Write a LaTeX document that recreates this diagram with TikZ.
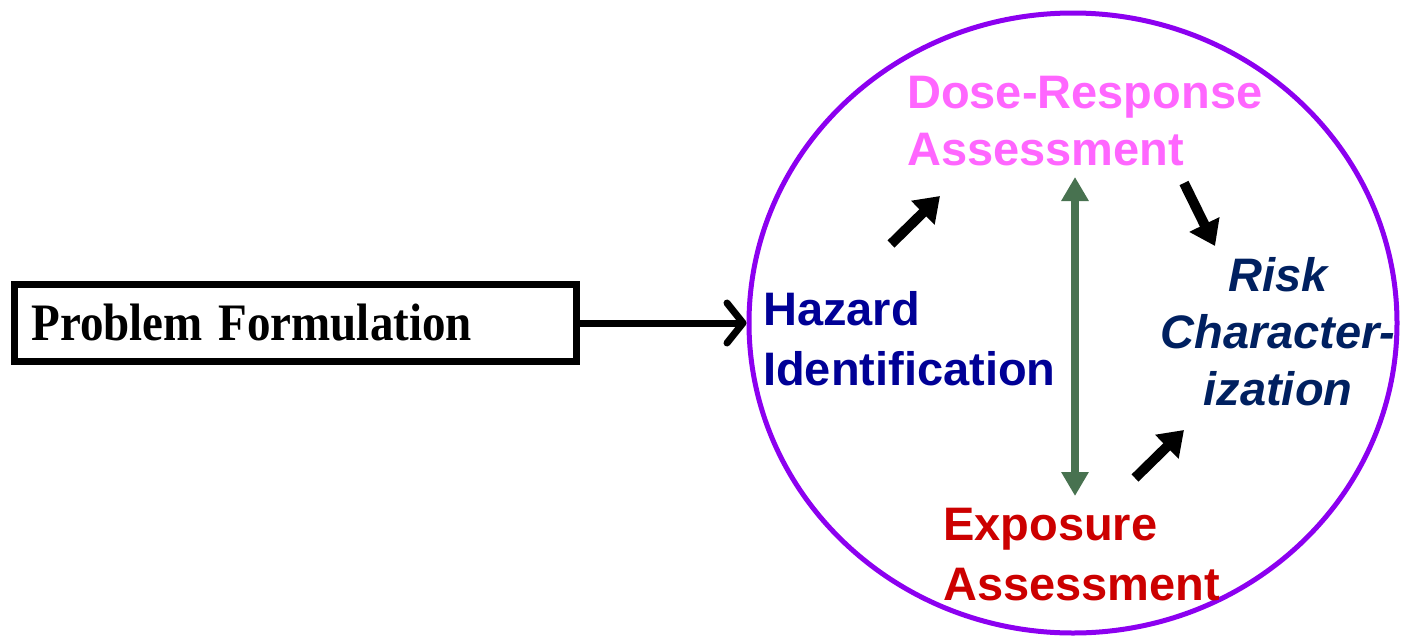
\documentclass[tikz,border=0pt]{standalone}
\usepackage{fontspec}
\setmainfont{Liberation Sans}
\newfontfamily\timesfont{Liberation Serif}
\usetikzlibrary{arrows.meta,shapes.geometric}
\definecolor{ringpurple}{RGB}{140,0,240}
\definecolor{dosepink}{RGB}{255,102,255}
\definecolor{hazardblue}{RGB}{0,0,150}
\definecolor{risknavy}{RGB}{0,32,96}
\definecolor{exposred}{RGB}{204,0,0}
\definecolor{linkgreen}{RGB}{72,114,80}
\tikzset{
  label/.style={inner sep=0pt, font=\fontsize{47}{60}\selectfont\bfseries},
  flow/.style={line width=10pt, -{Triangle[length=24pt,width=32pt]}},
  link/.style={line width=8pt, linkgreen, {Triangle[length=24pt,width=26pt]}-{Triangle[length=24pt,width=26pt]}},
}
\begin{document}
\begin{tikzpicture}[x=1pt,y=-1pt]
  \useasboundingbox (0,0) rectangle (1401,638);

  % problem formulation box
  \node[draw, line width=7pt, minimum width=562pt, minimum height=77pt, inner sep=0pt,
        font=\timesfont\fontsize{47}{58}\selectfont\bfseries, anchor=north west,
        text width=540pt, align=left]
    (pf) at (11,281) {\hspace*{6pt}\scalebox{1}[1.12]{Problem Formulation}};

  % risk assessment ring
  \node[draw=ringpurple, line width=5pt, ellipse, minimum width=648pt, minimum height=620pt, inner sep=0pt]
    (ring) at (1073,323) {};

  \draw[line width=7pt, -{Straight Barb[length=16pt,width=40pt,line cap=round,line join=round]}]
    (pf.east) -- (ring.west);

  % stages (anchored at the baseline of the last line)
  \node[label, text=hazardblue, anchor=base west, align=left] (haz) at (763,385)
    {Hazard\\Identification};
  \node[label, text=dosepink, anchor=base west, align=left, font=\fontsize{47}{57}\selectfont\bfseries] (dose) at (907,165)
    {Dose-Response\\Assessment};
  \node[label, text=exposred, anchor=base west, align=left] (expo) at (943,600)
    {Exposure\\Assessment};
  \node[label, text=risknavy, anchor=base, align=center, font=\fontsize{47}{57}\selectfont\bfseries\itshape] (risk) at (1278,405)
    {Risk\\Character-\\ization};

  % flow between stages
  \coordinate (a1s) at (891,244);
  \coordinate (a1e) at (940,196);
  \coordinate (a2s) at (1184,183);
  \coordinate (a2e) at (1215,246);
  \coordinate (a3s) at (1135,478);
  \coordinate (a3e) at (1184,430);
  \coordinate (gtop) at (1075,177);
  \coordinate (gbot) at (1075,496);
  \draw[flow] (a1s) -- (a1e);
  \draw[flow] (a2s) -- (a2e);
  \draw[flow] (a3s) -- (a3e);
  \draw[link] (gtop) -- (gbot);
\end{tikzpicture}
\end{document}
